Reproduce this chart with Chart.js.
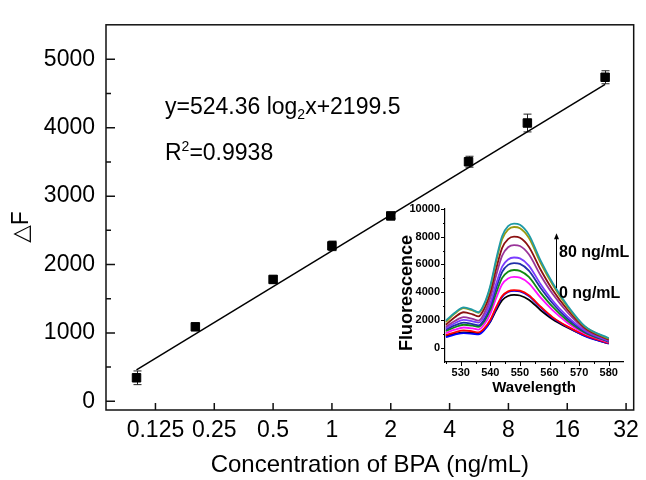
<!DOCTYPE html>
<html><head><meta charset="utf-8">
<script src="https://cdn.jsdelivr.net/npm/chart.js@4.4.1/dist/chart.umd.min.js"></script>
<style>
html,body{margin:0;padding:0;background:#fff;}
#wrap{position:relative;width:646px;height:480px;overflow:hidden;}
#main{position:absolute;left:0;top:0;}
#inset{position:absolute;left:370px;top:195px;}
</style></head><body>
<div id="wrap"><canvas id="main" width="646" height="480"></canvas><canvas id="inset" width="276" height="205"></canvas></div>
<script>
// ---- main calibration data ----
const concentrations = [0.1, 0.2, 0.5, 1, 2, 5, 10, 25];
const deltaF = [344, 1089, 1782, 2273, 2711, 3503, 4069, 4738];
const deltaFErr = [100, 45, 55, 70, 35, 80, 130, 95];
const fitX = [0.1, 25];
const fitY = [460, 4634];
const concTicks = [0.125, 0.25, 0.5, 1, 2, 4, 8, 16, 32];
const deltaFTicks = [0, 1000, 2000, 3000, 4000, 5000];
const deltaFMinorTicks = [500, 1500, 2500, 3500, 4500];

// ---- inset spectra ----
const wavelengths = [525, 528, 531, 534, 536, 538, 540, 542, 544, 546, 548, 550, 553, 557, 561, 566, 572, 580];
const specBlack   = [850,1000,1100,1080,1050,1330,1870,2700,3420,3720,3800,3760,3460,2700,2050,1450,850,300];
const specBlue    = [750,930,1050,1000,950,1270,1900,2840,3660,4010,4100,4060,3730,2900,2150,1500,820,280];
const specRed     = [900,1100,1250,1170,1100,1400,2010,2930,3720,4060,4150,4110,3780,2950,2200,1530,900,330];
const specMagenta = [1050,1290,1450,1380,1300,1680,2440,3580,4570,4990,5100,5050,4640,3600,2700,1800,1000,380];
const specGreen   = [1200,1470,1650,1580,1500,1910,2730,3960,5030,5480,5600,5540,5100,3950,2950,1950,1080,420];
const specNavy    = [1300,1600,1800,1700,1600,2050,2950,4300,5470,5970,6100,6040,5550,4300,3200,2100,1150,450];
const specViolet  = [1400,1760,2000,1900,1800,2270,3210,4620,5840,6360,6500,6440,5920,4570,3400,2250,1220,480];
const specPurple  = [1500,1920,2200,2070,1950,2500,3590,5220,6640,7240,7400,7330,6730,5200,3880,2550,1330,530];
const specWine    = [1650,2190,2550,2400,2250,2830,3980,5700,7200,7830,8000,7920,7280,5620,4180,2750,1420,580];
const specOlive   = [1850,2450,2850,2680,2500,3120,4360,6220,7830,8510,8700,8610,7920,6100,4550,2950,1500,640];
const specTeal    = [1950,2520,2900,2730,2550,3190,4470,6390,8050,8760,8950,8860,8150,6270,4680,3050,1530,680];
const insetXTicks = [530, 540, 550, 560, 570, 580];
const insetXMinor = [525, 535, 545, 555, 565, 575];
const insetYTicks = [0, 2000, 4000, 6000, 8000, 10000];
const insetYMinor = [1000, 3000, 5000, 7000, 9000];

Chart.defaults.font.family = '"Liberation Sans", Arial, sans-serif';
Chart.defaults.color = '#000';
Chart.defaults.animation = false;

function seg(ctx, x1, y1, x2, y2) { ctx.moveTo(x1, y1); ctx.lineTo(x2, y2); }

const mainDecor = {
  id: 'mainDecor',
  beforeDatasetsDraw(chart) {
    const {ctx, scales: {x, y}} = chart;
    ctx.save();
    ctx.strokeStyle = '#222'; ctx.lineWidth = 1;
    ctx.beginPath();
    concentrations.forEach((c, i) => {
      const px = Math.round(x.getPixelForValue(c)) + 0.5;
      const t = y.getPixelForValue(deltaF[i] + deltaFErr[i]);
      const b = y.getPixelForValue(deltaF[i] - deltaFErr[i]);
      seg(ctx, px, t, px, b);
      seg(ctx, px - 4, t, px + 4, t);
      seg(ctx, px - 4, b, px + 4, b);
    });
    ctx.stroke();
    ctx.restore();
  },
  afterDraw(chart) {
    const {ctx, scales: {x, y}, chartArea: a} = chart;
    ctx.save();
    ctx.strokeStyle = '#111'; ctx.lineWidth = 1.5;
    ctx.strokeRect(a.left, a.top, a.right - a.left, a.bottom - a.top);
    ctx.beginPath();
    deltaFTicks.forEach(v => { const p = y.getPixelForValue(v); seg(ctx, a.left, p, a.left + 9, p); });
    deltaFMinorTicks.forEach(v => { const p = y.getPixelForValue(v); seg(ctx, a.left, p, a.left + 5, p); });
    concTicks.forEach(v => { const p = x.getPixelForValue(v); seg(ctx, p, a.bottom, p, a.bottom - 7); });
    ctx.stroke();
    // equation text
    ctx.fillStyle = '#000';
    ctx.textBaseline = 'alphabetic'; ctx.textAlign = 'left';
    const big = '23px "Liberation Sans", Arial, sans-serif';
    const small = '14px "Liberation Sans", Arial, sans-serif';
    let tx = 165, ty = 114;
    ctx.font = big; ctx.fillText('y=524.36 log', tx, ty); tx += ctx.measureText('y=524.36 log').width;
    ctx.font = small; ctx.fillText('2', tx, ty + 5); tx += ctx.measureText('2').width;
    ctx.font = big; ctx.fillText('x+2199.5', tx, ty);
    tx = 165; ty = 160;
    ctx.font = big; ctx.fillText('R', tx, ty); tx += ctx.measureText('R').width;
    ctx.font = small; ctx.fillText('2', tx, ty - 9); tx += ctx.measureText('2').width;
    ctx.font = big; ctx.fillText('=0.9938', tx, ty);
    // y title
    ctx.save();
    ctx.translate(22, 227); ctx.rotate(-Math.PI / 2);
    ctx.textAlign = 'center'; ctx.textBaseline = 'middle';
    ctx.font = '23px "Liberation Sans", "DejaVu Sans", sans-serif';
    ctx.fillText('△F', 0, 0);
    ctx.restore();
    ctx.restore();
  }
};

new Chart(document.getElementById('main'), {
  type: 'scatter',
  data: {
    datasets: [
      {
        data: concentrations.map((c, i) => ({x: c, y: deltaF[i]})),
        pointStyle: 'rect', pointRadius: 6, backgroundColor: '#000', borderColor: '#000', borderWidth: 1, order: 0
      },
      {
        data: fitX.map((c, i) => ({x: c, y: fitY[i]})),
        showLine: true, pointRadius: 0, borderColor: '#000', borderWidth: 1.5, order: 1
      }
    ]
  },
  options: {
    responsive: false, devicePixelRatio: 1,
    layout: {padding: {top: 12, right: 9, left: 0, bottom: 0}},
    plugins: {legend: {display: false}, tooltip: {enabled: false}},
    scales: {
      x: {
        type: 'logarithmic', min: 0.0698, max: 35,
        grid: {display: false, drawTicks: false}, border: {display: false},
        afterBuildTicks: s => { s.ticks = concTicks.map(v => ({value: v})); },
        afterFit: s => { s.height = 70; },
        ticks: {autoSkip: false, maxRotation: 0, padding: 7, font: {size: 23}, callback: v => String(v)},
        title: {display: true, text: 'Concentration of BPA (ng/mL)', font: {size: 24}, padding: {top: 0, bottom: 0}}
      },
      y: {
        min: -127, max: 5505,
        grid: {display: false, drawTicks: false}, border: {display: false},
        afterBuildTicks: s => { s.ticks = deltaFTicks.map(v => ({value: v})); },
        afterFit: s => { s.width = 106; },
        ticks: {padding: 11, font: {size: 23}, callback: v => String(v)}
      }
    }
  },
  plugins: [mainDecor]
});

const insetDecor = {
  id: 'insetDecor',
  afterDraw(chart) {
    const {ctx, scales: {x, y}, chartArea: a} = chart;
    ctx.save();
    ctx.strokeStyle = '#000'; ctx.lineWidth = 1;
    ctx.beginPath();
    insetYTicks.forEach(v => { const p = Math.round(y.getPixelForValue(v)) + 0.5; seg(ctx, a.left - 4, p, a.left, p); });
    insetYMinor.forEach(v => { const p = Math.round(y.getPixelForValue(v)) + 0.5; seg(ctx, a.left - 2, p, a.left, p); });
    insetXTicks.forEach(v => { const p = Math.round(x.getPixelForValue(v)) + 0.5; seg(ctx, p, a.bottom, p, a.bottom + 4); });
    insetXMinor.forEach(v => { const p = Math.round(x.getPixelForValue(v)) + 0.5; seg(ctx, p, a.bottom, p, a.bottom + 2); });
    ctx.stroke();
    // arrow
    const ax = Math.round(x.getPixelForValue(562.3)) + 0.5;
    const aTop = y.getPixelForValue(8250), aBot = y.getPixelForValue(4300);
    ctx.beginPath(); seg(ctx, ax, aBot, ax, aTop + 3); ctx.stroke();
    ctx.fillStyle = '#000';
    ctx.beginPath(); ctx.moveTo(ax, aTop); ctx.lineTo(ax - 2.5, aTop + 6); ctx.lineTo(ax + 2.5, aTop + 6); ctx.closePath(); ctx.fill();
    // labels
    ctx.font = 'bold 16px "Liberation Sans", Arial, sans-serif';
    ctx.textAlign = 'left'; ctx.textBaseline = 'middle';
    ctx.fillText('80 ng/mL', ax + 2.5, y.getPixelForValue(6855));
    ctx.fillText('0 ng/mL', ax + 2.5, y.getPixelForValue(3878));
    // y title
    ctx.save();
    ctx.translate(36.7, 98); ctx.rotate(-Math.PI / 2);
    ctx.textAlign = 'center'; ctx.textBaseline = 'middle';
    ctx.font = 'bold 18px "Liberation Sans", Arial, sans-serif';
    ctx.fillText('Fluorescence', 0, 0);
    ctx.restore();
    ctx.restore();
  }
};

const spectra = [
  [specTeal, '#1E9AA6'], [specOlive, '#9A9A10'], [specWine, '#8B1010'], [specPurple, '#993399'],
  [specViolet, '#7A3CFF'], [specNavy, '#1F2FA8'], [specGreen, '#108A10'], [specMagenta, '#FF10FF'],
  [specRed, '#FF0000'], [specBlue, '#0000FF'], [specBlack, '#000000']
];

new Chart(document.getElementById('inset'), {
  type: 'line',
  data: {
    datasets: spectra.map(([arr, col]) => ({
      data: wavelengths.map((w, i) => ({x: w, y: arr[i]})),
      borderColor: col, borderWidth: 1.8, pointRadius: 0, cubicInterpolationMode: 'monotone', fill: false
    }))
  },
  options: {
    responsive: false, devicePixelRatio: 1,
    layout: {padding: {top: 14, right: 23, left: 0, bottom: 0}},
    plugins: {legend: {display: false}, tooltip: {enabled: false}},
    scales: {
      x: {
        type: 'linear', min: 524.7, max: 584.8,
        grid: {display: false, drawTicks: false}, border: {display: true, color: '#000', width: 1.2},
        afterBuildTicks: s => { s.ticks = insetXTicks.map(v => ({value: v})); },
        afterFit: s => { s.height = 38; },
        ticks: {autoSkip: false, maxRotation: 0, padding: 4, font: {size: 11, weight: 'bold'}, callback: v => String(v)},
        title: {display: true, text: 'Wavelength', font: {size: 15, weight: 'bold'}, padding: {top: 0, bottom: 3}}
      },
      y: {
        min: -1038, max: 10000,
        grid: {display: false, drawTicks: false}, border: {display: true, color: '#000', width: 1.2},
        afterBuildTicks: s => { s.ticks = insetYTicks.map(v => ({value: v})); },
        afterFit: s => { s.width = 75; },
        ticks: {padding: 5, font: {size: 11, weight: 'bold'}, callback: v => String(v)}
      }
    }
  },
  plugins: [insetDecor]
});
</script>
</body></html>
